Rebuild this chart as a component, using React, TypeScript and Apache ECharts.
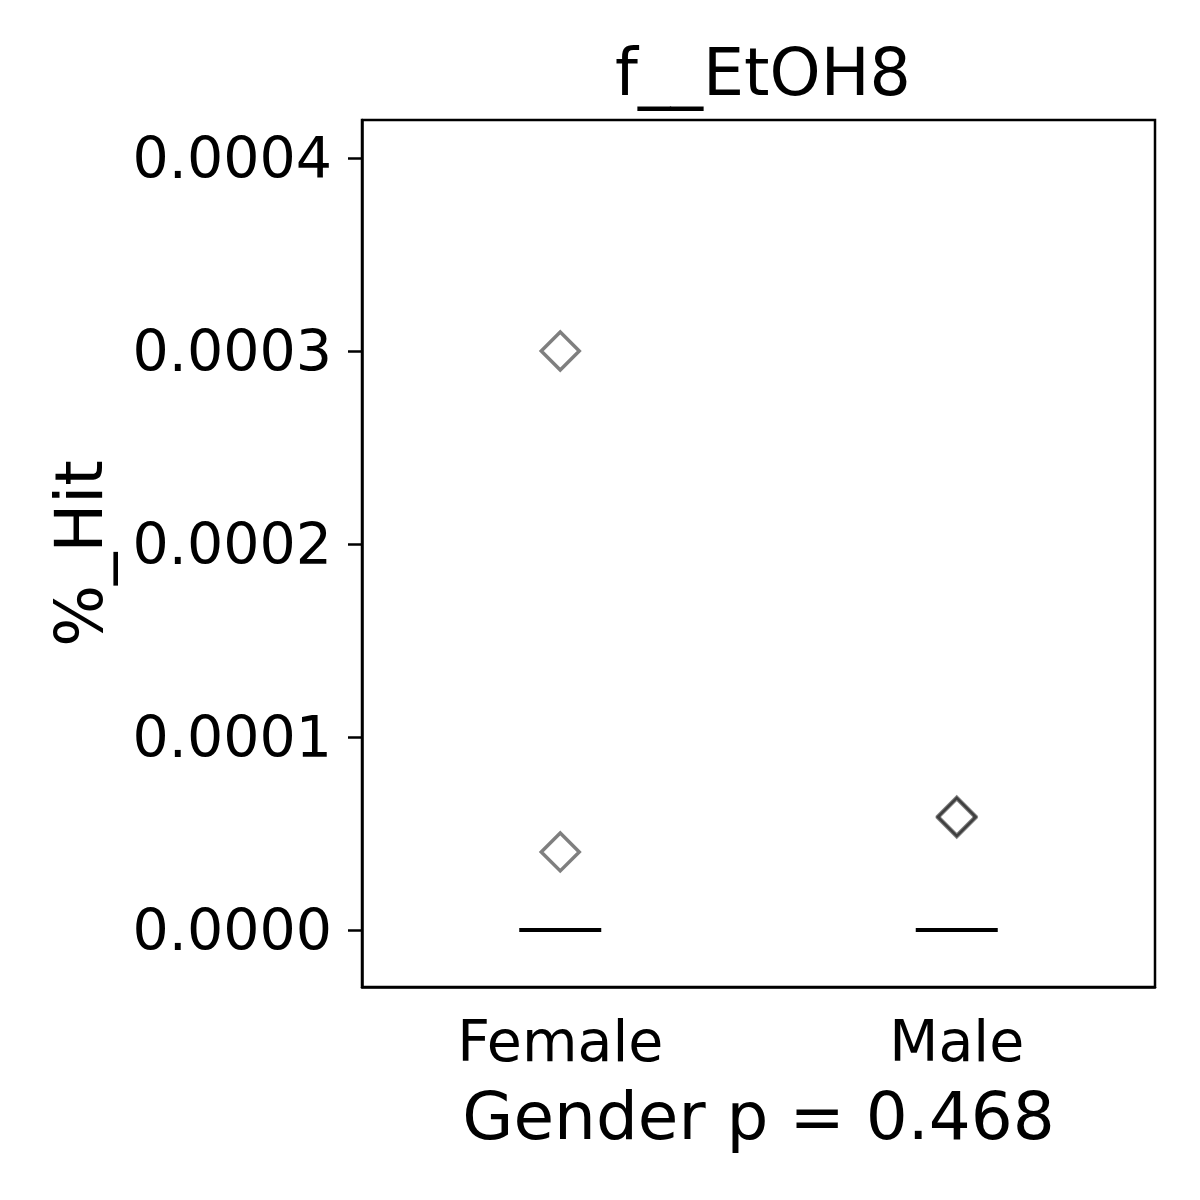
import React, { useEffect, useRef } from "react";
import * as echarts from "echarts";

const categories = ["Female", "Male"];
const femaleValues = [0.0003, 0.0000405];
const maleValues = [0.0000590, 0.0000582];
const medians = [0, 0];
const yTicks = [0, 0.0001, 0.0002, 0.0003, 0.0004];

const FONT = "DejaVu Sans";

export default function App() {
  const ref = useRef<HTMLDivElement>(null);
  useEffect(() => {
    if (!ref.current) return;
    const chart = echarts.init(ref.current, null, { renderer: "svg" });
    const pts: [string, number][] = [
      ...femaleValues.map((v) => [categories[0], v] as [string, number]),
      ...maleValues.map((v) => [categories[1], v] as [string, number]),
    ];
    chart.setOption({
      animation: false,
      backgroundColor: "#ffffff",
      title: {
        text: "f__EtOH8",
        left: 758,
        textAlign: "center",
        top: 35,
        textStyle: { fontFamily: FONT, fontSize: 65, fontWeight: "normal", color: "#000" },
      },
      grid: {
        left: 362,
        right: 45,
        top: 120,
        bottom: 213,
        show: true,
        borderColor: "#000",
        borderWidth: 2.5,
        backgroundColor: "transparent",
      },
      xAxis: {
        type: "category",
        data: categories,
        boundaryGap: true,
        name: "Gender p = 0.468",
        nameLocation: "middle",
        nameGap: 96,
        nameTextStyle: { fontFamily: FONT, fontSize: 66, color: "#000" },
        axisLine: { onZero: false, lineStyle: { color: "#000", width: 2.5 } },
        axisTick: { alignWithLabel: true, length: 14, lineStyle: { color: "#000", width: 2.5 } },
        axisLabel: { fontFamily: FONT, fontSize: 57, color: "#000", margin: 25 },
        splitLine: { show: false },
      },
      yAxis: {
        type: "value",
        min: -0.0000295,
        max: 0.0004197,
        name: "%_Hit",
        nameLocation: "middle",
        nameGap: 250,
        nameTextStyle: { fontFamily: FONT, fontSize: 65, color: "#000" },
        axisLine: { show: true, onZero: false, lineStyle: { color: "#000", width: 2.5 } },
        axisTick: { show: true, length: 14, customValues: yTicks, lineStyle: { color: "#000", width: 2.5 } },
        axisLabel: {
          fontFamily: FONT,
          fontSize: 57,
          color: "#000",
          margin: 30,
          customValues: yTicks,
          formatter: (v: number) => v.toFixed(4),
        },
        splitLine: { show: false },
      },
      series: [
        {
          type: "scatter",
          data: medians.map((m, i) => [categories[i], m]),
          symbol: "rect",
          symbolSize: [82, 4],
          itemStyle: { color: "#000", opacity: 1 },
          z: 2,
        },
        {
          type: "scatter",
          data: pts,
          symbol: "diamond",
          symbolSize: 38,
          itemStyle: { color: "transparent", borderColor: "rgba(0,0,0,0.5)", borderWidth: 3.5, opacity: 1 },
          z: 3,
        },
      ],
    });
    return () => chart.dispose();
  }, []);
  return (
    <div
      ref={ref}
      style={{ position: "fixed", left: 0, top: 0, width: 1200, height: 1200 }}
    />
  );
}
